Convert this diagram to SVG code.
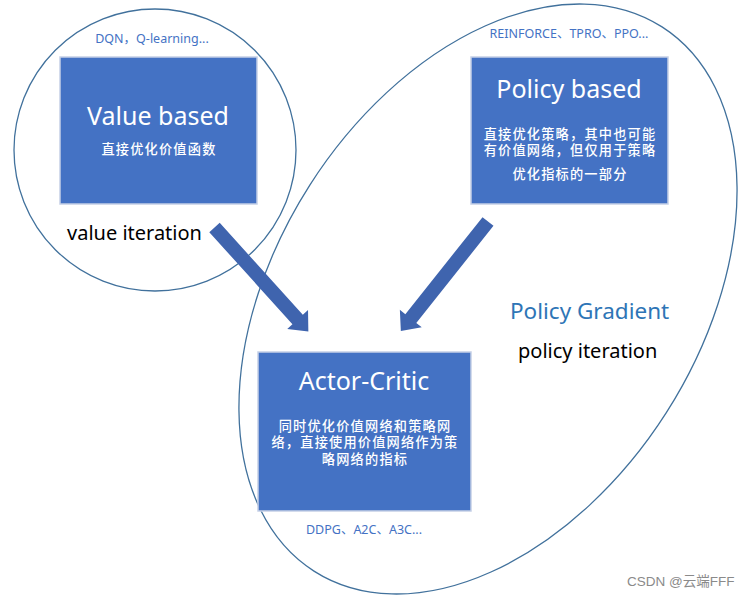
<svg xmlns="http://www.w3.org/2000/svg" width="748" height="597" viewBox="0 0 748 597">
<style>
.bg{fill:#ffffff}
.ring{fill:none;stroke:#41719C;stroke-width:1.3}
.box{fill:#4472C4;stroke:#C5D0E6;stroke-width:1.5}
.title{font-family:"Noto Sans","Open Sans",sans-serif;font-size:25px;fill:#ffffff;text-anchor:middle}
.desc{font-family:"Noto Sans CJK SC","Noto Sans",sans-serif;font-size:13.2px;letter-spacing:1.2px;fill:#ffffff;text-anchor:middle;font-weight:500}
.ex{font-family:"Noto Sans","Noto Sans CJK SC",sans-serif;font-size:12.5px;fill:#4472C4;text-anchor:middle}
.lab{font-family:"Noto Sans",sans-serif;font-size:20px;fill:#000000}
.pg{font-family:"Noto Sans",sans-serif;font-size:22.5px;fill:#2E75B6}
.arrow{fill:#3F64AE}
.wm{font-family:"Liberation Sans","Noto Sans CJK SC",sans-serif;font-size:13.5px;fill:#8a8a8a}
</style>
<defs>
<polygon id="blockArrow" points="0,-7 124,-7 124,-14 140,0 124,14 124,7 0,7"/>
</defs>
<rect class="bg" x="0" y="0" width="748" height="597"/>
<g id="region-value">
<circle class="ring" cx="155" cy="150" r="141"/>
</g>
<g id="region-policy-gradient">
<ellipse class="ring" cx="488" cy="299" rx="323" ry="211.5" transform="rotate(-57.4 488 299)"/>
</g>
<g id="connectors">
<use href="#blockArrow" class="arrow" transform="translate(214.5 227.5) rotate(47.9)"/>
<use href="#blockArrow" class="arrow" transform="translate(488 221.5) rotate(128.5)"/>
</g>
<g id="node-value-based">
<text class="ex" x="152" y="43">DQN，Q-learning...</text>
<rect class="box" x="60" y="57" width="197" height="147"/>
<text class="title" x="158" y="125">Value based</text>
<text class="desc" x="159" y="154">直接优化价值函数</text>
<text class="lab" x="67" y="240">value iteration</text>
</g>
<g id="node-policy-based">
<text class="ex" x="569" y="38">REINFORCE、TPRO、PPO...</text>
<rect class="box" x="471" y="57" width="197" height="147"/>
<text class="title" x="569" y="98">Policy based</text>
<text class="desc" x="570" y="139">直接优化策略，其中也可能</text>
<text class="desc" x="570" y="155">有价值网络，但仅用于策略</text>
<text class="desc" x="570" y="179">优化指标的一部分</text>
</g>
<g id="node-actor-critic">
<rect class="box" x="258" y="352" width="213" height="159"/>
<text class="title" x="364" y="390">Actor-Critic</text>
<text class="desc" x="365" y="431">同时优化价值网络和策略网</text>
<text class="desc" x="365" y="447">络，直接使用价值网络作为策</text>
<text class="desc" x="365" y="464">略网络的指标</text>
<text class="ex" x="364" y="534">DDPG、A2C、A3C...</text>
</g>
<g id="labels">
<text class="pg" x="510" y="319">Policy Gradient</text>
<text class="lab" x="518" y="358">policy iteration</text>
<text class="wm" x="627" y="586">CSDN @云端FFF</text>
</g>
</svg>
